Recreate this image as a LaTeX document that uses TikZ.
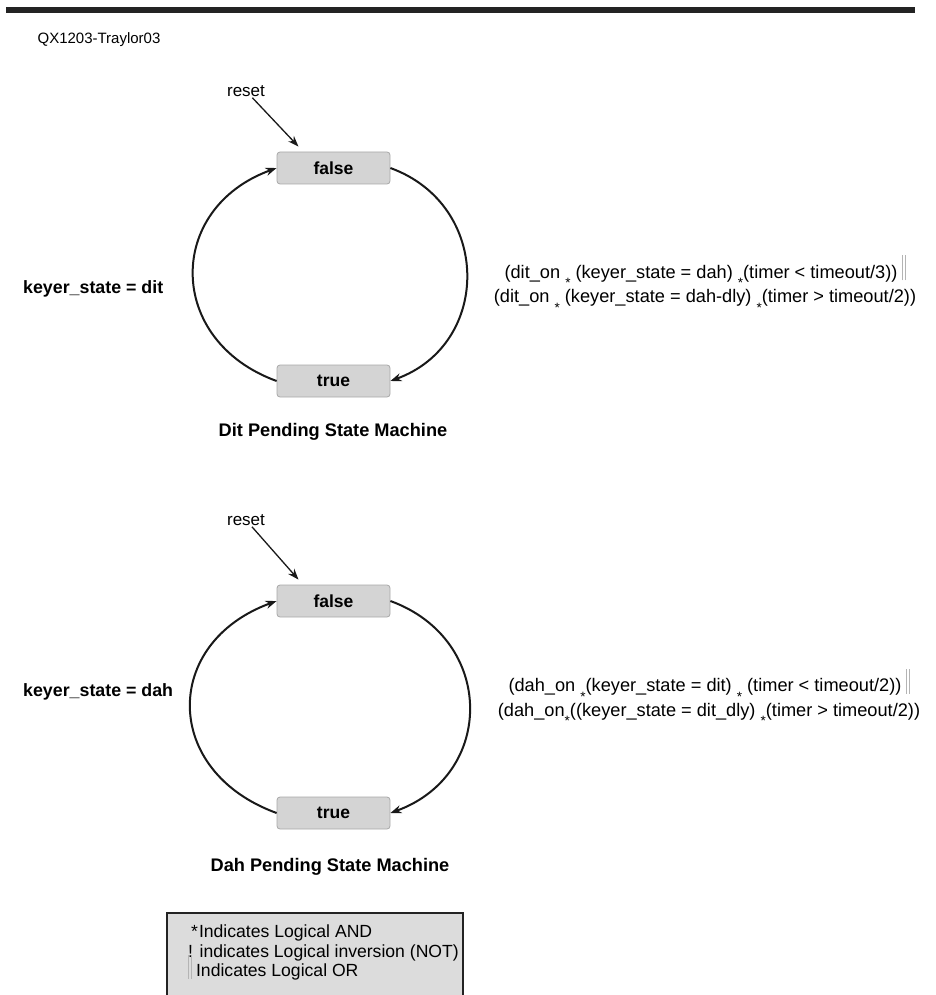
\documentclass[tikz,border=0pt]{standalone}
\usepackage{fontspec}
\setmainfont{Liberation Sans}
\usetikzlibrary{arrows.meta}

\definecolor{boxgray}{HTML}{D4D4D4}
\definecolor{boxedge}{HTML}{A8A8A8}
\definecolor{legendgray}{HTML}{DCDCDC}
\definecolor{orgray}{HTML}{B4B4B4}
\definecolor{barcol}{HTML}{232323}

% operadores logicos del texto
\newcommand{\andop}{\smash{\raisebox{-9.5pt}{\fontsize{13.5}{13.5}\selectfont *}}}
\newcommand{\orop}{\smash{\textcolor{orgray}{\rule[-0.2ex]{0.6pt}{2.6ex}\hspace{1.8pt}\rule[-0.2ex]{0.6pt}{2.6ex}}}}

\begin{document}
\begin{tikzpicture}[x=1pt, y=1pt, >={Stealth[length=11pt,width=8pt]}]

	% Parametros de dibujo
	\def\cx{333.5}    % centro horizontal de las cajas
	\def\dl{118}      % control del arco izquierdo
	\def\dr{108}      % control del arco derecho

	\tikzset{
		stateBox/.style={draw=boxedge, line width=0.8pt, fill=boxgray, rounded corners=3pt,
			minimum width=113pt, minimum height=32pt, inner sep=0pt,
			font=\fontsize{17.5}{20}\selectfont\bfseries},
		loopArrow/.style={->, line width=2pt, black!90},
		resetArrow/.style={->, line width=1.3pt, black!90},
		lbl/.style={font=\fontsize{17}{20}\selectfont, inner sep=1pt},
		blbl/.style={font=\fontsize{17.8}{20}\selectfont\bfseries, inner sep=1pt},
		capt/.style={font=\fontsize{18.2}{20}\selectfont\bfseries, inner sep=1pt},
		cond/.style={align=center, font=\fontsize{18.2}{24.5}\selectfont, inner sep=1pt},
	}

	\useasboundingbox (0,0) rectangle (935,-995);

	% --- 1. CABECERA ---
	\fill[barcol] (6,-7) rectangle (915,-13);
	\node[lbl, font=\fontsize{15}{18}\selectfont] (FigId) at (99,-40) {QX1203-Traylor03};

	% --- 2. MAQUINA DIT ---
	\node[stateBox] (FalseA) at (\cx,-168) {false};
	\node[stateBox] (TrueA) at (\cx,-381) {true};

	\node[lbl] (RstA) at (246,-91) {reset};
	\coordinate (RstTipA) at ([xshift=-35pt,yshift=5pt]FalseA.north);
	\draw[resetArrow] (RstA) -- (RstTipA);

	\draw[loopArrow] (TrueA.west) .. controls +(160:\dl) and +(200:\dl) .. (FalseA.west);
	\draw[loopArrow] (FalseA.east) .. controls +(-20:\dr) and +(20:\dr) .. (TrueA.east);

	\node[blbl, anchor=west] (KeyA) at (22,-289) {keyer\_state = dit};
	\node[cond] (CondA) at (705,-286)
		{(dit\_on \andop{} (keyer\_state = dah) \andop(timer < timeout/3)) \orop\\
		 (dit\_on \andop{} (keyer\_state = dah-dly) \andop(timer > timeout/2))};

	\node[capt] (CapA) at (333,-432) {Dit Pending State Machine};

	% --- 3. MAQUINA DAH ---
	\node[stateBox] (FalseB) at (\cx,-601) {false};
	\node[stateBox] (TrueB) at (\cx,-813) {true};

	\node[lbl] (RstB) at (246,-520) {reset};
	\coordinate (RstTipB) at ([xshift=-35pt,yshift=5pt]FalseB.north);
	\draw[resetArrow] (RstB) -- (RstTipB);

	\draw[loopArrow] (TrueB.west) .. controls +(160:\dl+4) and +(200:\dl+4) .. (FalseB.west);
	\draw[loopArrow] (FalseB.east) .. controls +(-20:\dr+4) and +(20:\dr+4) .. (TrueB.east);

	\node[blbl, anchor=west] (KeyB) at (22,-692) {keyer\_state = dah};
	\node[cond] (CondB) at (709,-699.5)
		{(dah\_on \andop(keyer\_state = dit) \andop{} (timer < timeout/2)) \orop\\
		 (dah\_on\andop((keyer\_state = dit\_dly) \andop(timer > timeout/2))};

	\node[capt] (CapB) at (330,-867) {Dah Pending State Machine};

	% --- 4. LEYENDA ---
	\fill[legendgray] (167,-913) rectangle (463,-995);
	\draw[line width=2pt, barcol] (167,-995) -- (167,-913) -- (463,-913) -- (463,-995);
	\node[lbl, align=left, anchor=north west, font=\fontsize{17.6}{19.5}\selectfont] (Legend) at (187,-924)
		{\hspace{3pt}*\hspace{1pt}Indicates Logical AND\\
		 ! indicates Logical inversion (NOT)\\
		 \orop\ Indicates Logical OR};

\end{tikzpicture}
\end{document}
